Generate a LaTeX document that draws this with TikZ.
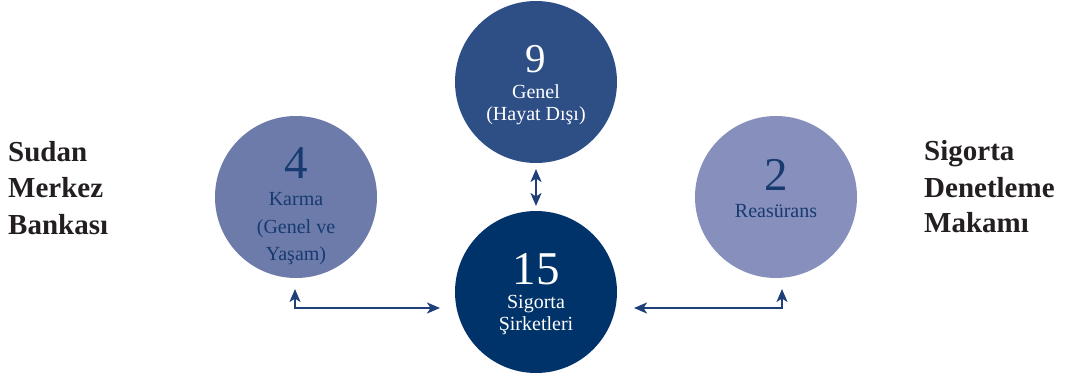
\documentclass[tikz,border=0pt]{standalone}
\usepackage{fontspec}
\setmainfont{Liberation Serif}
\usetikzlibrary{arrows.meta}
\definecolor{navyA}{HTML}{2E4E86}
\definecolor{navyB}{HTML}{003369}
\definecolor{slateA}{HTML}{6C7BA9}
\definecolor{slateB}{HTML}{8790BC}
\definecolor{inkdark}{HTML}{173A71}
\definecolor{arrowink}{HTML}{1E3F78}
\definecolor{sidetext}{HTML}{231F20}
\tikzset{
  bubble/.style={circle, draw=none, minimum size=162pt, inner sep=0pt},
  bignum/.style={anchor=base, inner sep=0pt, font=\fontsize{47}{47}\selectfont},
  lbl/.style={anchor=base, inner sep=0pt, font=\fontsize{20}{20}\selectfont},
  sidelbl/.style={anchor=base west, inner sep=0pt, text=sidetext,
    font=\fontsize{29}{29}\selectfont\bfseries},
  link/.style={draw=arrowink, line width=2.2pt,
    arrows={Stealth[length=13pt,width=11pt,inset=3.5pt]-Stealth[length=13pt,width=11pt,inset=3.5pt]}}
}
\begin{document}
\begin{tikzpicture}[x=1pt,y=-1pt]
\useasboundingbox (0,0) rectangle (1068,378);

% circles
\node[bubble, fill=navyA]  (genel)  at (536,82)  {};
\node[bubble, fill=navyB]  (sirket) at (536,292) {};
\node[bubble, fill=slateA] (karma)  at (296,197) {};
\node[bubble, fill=slateB] (reas)   at (776,197) {};

% texts of the top circle
\node[bignum, text=white, font=\fontsize{41}{41}\selectfont] (n9) at (536,72) {9};
\node[lbl, text=white] (t9a) at (536,98) {Genel};
\node[lbl, text=white] (t9b) at (536,120) {(Hayat Dışı)};

% texts of the bottom circle
\node[bignum, text=white] (n15) at (536,284) {15};
\node[lbl, text=white] (t15a) at (536,308) {Sigorta};
\node[lbl, text=white] (t15b) at (536,330) {Şirketleri};

% texts of the left circle
\node[bignum, text=inkdark] (n4) at (296,178) {4};
\node[lbl, text=inkdark] (t4a) at (296,205) {Karma};
\node[lbl, text=inkdark] (t4b) at (296,233) {(Genel ve};
\node[lbl, text=inkdark] (t4c) at (296,260) {Yaşam)};

% texts of the right circle
\node[bignum, text=inkdark] (n2) at (776,190) {2};
\node[lbl, text=inkdark] (t2a) at (776,217) {Reasürans};

% side titles, one line each
\node[sidelbl] (sudanA) at (8,161) {Sudan};
\node[sidelbl] (sudanB) at (8,197) {Merkez};
\node[sidelbl] (sudanC) at (8,234) {Bankası};
\node[sidelbl] (sdmA) at (924,160) {Sigorta};
\node[sidelbl] (sdmB) at (924,197) {Denetleme};
\node[sidelbl] (sdmC) at (924,232) {Makamı};

% connector end points
\coordinate (vtop) at (536,169);
\coordinate (vbot) at (536,206);
\coordinate (ltip) at (295,289);
\coordinate (lend) at (440,308);
\coordinate (rtip) at (782,289);
\coordinate (rend) at (634,308);

% connectors
\draw[link] (vtop) -- (vbot);
\draw[link] (ltip) |- (lend);
\draw[link] (rtip) |- (rend);
\end{tikzpicture}
\end{document}
